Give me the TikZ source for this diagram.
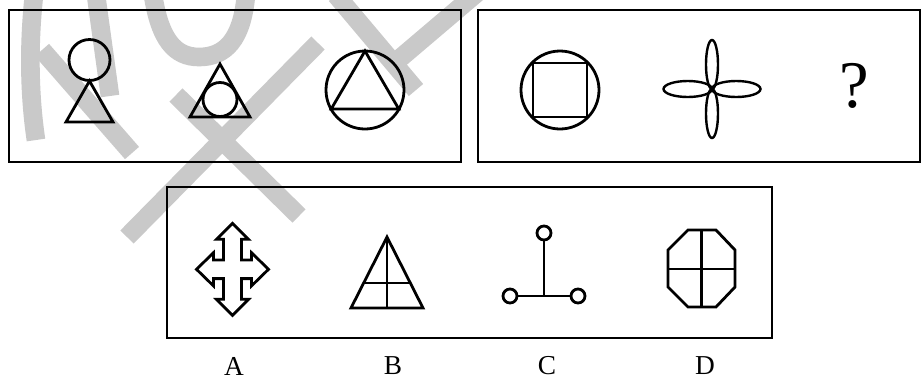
\documentclass[tikz,border=0pt]{standalone}
\usepackage{fontspec}
\setmainfont{Liberation Serif}
\tikzset{
  wm/.style={draw=black!21, line width=14pt},
  framebox/.style={draw=black, line width=2.1pt},
  fig/.style={draw=black, line width=2.1pt, line join=miter},
  thinfig/.style={draw=black, line width=1.8pt},
  lbl/.style={font=\fontsize{20.5}{22}\selectfont, inner sep=0pt},
  qmark/.style={font=\fontsize{50}{55}\selectfont, inner sep=0pt}
}
\begin{document}
\begin{tikzpicture}[x=0.75pt, y=-0.75pt]
\path[use as bounding box, fill=white] (0,0) rectangle (922,380);
% watermark
\begin{scope}
\clip (0,0) rectangle (922,380);
\draw[wm] (34,-5) .. controls (28,50) and (30,100) .. (36,140);
\draw[wm] (42,50) -- (132,153);
\draw[wm] (96,-5) -- (110,96);
\draw[wm] (153,-5) .. controls (160,40) and (175,57) .. (199,57) .. controls (225,57) and (242,40) .. (246,-5);
\draw[wm] (318,43) -- (127,237);
\draw[wm] (176,95) -- (299,216);
\draw[wm] (336,-5) -- (416,90);
\draw[wm] (478,-8) -- (398,60);
\end{scope}
% frames
\draw[framebox] (9,10) rectangle (461,162);
\draw[framebox] (478,10) rectangle (920,162);
\draw[framebox] (167,187) rectangle (772,338);
% box 1
\draw[fig] (89.5,60) circle[radius=20.5];
\draw[fig] (89.5,81) -- (113,122) -- (66,122) -- cycle;
\draw[fig] (220,64) -- (250,117) -- (190,117) -- cycle;
\draw[fig] (220,99.5) circle[radius=17];
\draw[fig] (365,90) circle[radius=39];
\draw[fig] (365,51) -- (398.8,109) -- (331.2,109) -- cycle;
% box 2
\draw[fig] (560,90) circle[radius=39];
\draw[fig] (533,63) rectangle (587,117);
\draw[thinfig] (712,64.5) ellipse[x radius=6, y radius=24.5];
\draw[thinfig] (712,113.5) ellipse[x radius=6, y radius=24.5];
\draw[thinfig] (687.75,89) ellipse[x radius=24.25, y radius=8];
\draw[thinfig] (736.25,89) ellipse[x radius=24.25, y radius=8];
\node[qmark] (q) at (854,86) {?};
% box 3 : A
\begin{scope}[shift={(232.5,269.3)}]
\draw[fig] (0,-46) -- (-16,-30) -- (-9,-30) -- (-9,-9.3) -- (-19,-9.3) -- (-19,-16.6)
  -- (-36,0) -- (-19,16.6) -- (-19,9.3) -- (-9,9.3) -- (-9,30) -- (-16,30)
  -- (0,46) -- (16,30) -- (9,30) -- (9,9.3) -- (19,9.3) -- (19,16.6)
  -- (36,0) -- (19,-16.6) -- (19,-9.3) -- (9,-9.3) -- (9,-30) -- (16,-30) -- cycle;
\end{scope}
% B
\draw[fig] (387,237) -- (423,308) -- (351,308) -- cycle;
\draw[fig] (387,237) -- (387,308);
\draw[fig] (363.7,283) -- (410.3,283);
% C
\draw[fig] (544,233) circle[radius=7];
\draw[fig] (510,296) circle[radius=7];
\draw[fig] (578,296) circle[radius=7];
\draw[fig] (544,240) -- (544,296);
\draw[fig] (517,296) -- (571,296);
% D
\draw[fig] (688,230) -- (716,230) -- (735,250) -- (735,287) -- (716,307) -- (688,307) -- (668,287) -- (668,250) -- cycle;
\draw[fig] (701.5,230) -- (701.5,307);
\draw[fig] (668,269) -- (735,269);
% labels
\node[lbl] (la) at (234,366) {A};
\node[lbl] (lb) at (393,366) {B};
\node[lbl] (lc) at (547,366) {C};
\node[lbl] (ld) at (705,366) {D};
\end{tikzpicture}
\end{document}
